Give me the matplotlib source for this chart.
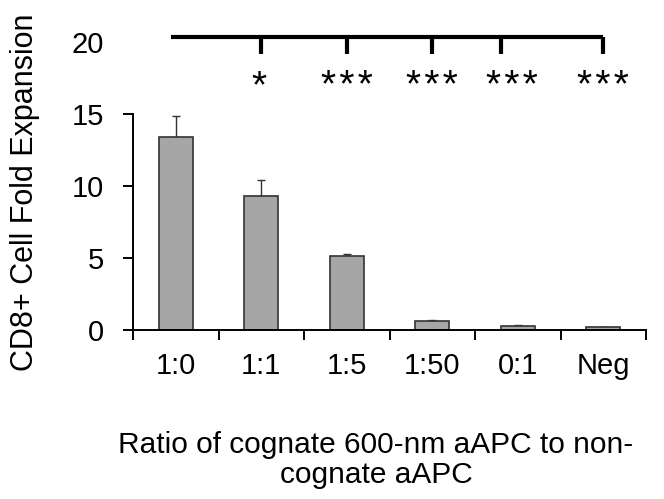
import matplotlib.pyplot as plt
import numpy as np

plt.rcParams['font.family'] = ['Liberation Sans', 'DejaVu Sans']

# data
categories = ['1:0', '1:1', '1:5', '1:50', '0:1', 'Neg']
values = [13.4, 9.3, 5.15, 0.6, 0.27, 0.19]
err_upper = [1.45, 1.15, 0.15, 0.08, 0.05, 0.02]
yticks = [0, 5, 10, 15, 20]

# significance bracket
bracket_x = [-0.05, 5]
bracket_drops = [1, 2, 3, 3.8, 5]
star_x = [0.97, 2, 3, 3.93, 5]
star_labels = ['*', '*\u200a*\u200a*', '*\u200a*\u200a*', '*\u200a*\u200a*', '*\u200a*\u200a*']

fig = plt.figure(figsize=(6.64, 4.99), dpi=100)
ax = fig.add_axes([0.2003, 0.3387, 0.7727, 0.606])

x = np.arange(len(categories))
ax.bar(x, values, width=0.4, color='#a6a6a6', edgecolor='#333333', linewidth=1.2, zorder=2)
ax.errorbar(x, values, yerr=[np.zeros(len(values)), err_upper], fmt='none',
            ecolor='#333333', elinewidth=1, capsize=3.2, capthick=1, zorder=1)

ax.set_xlim(-0.5, 5.5)
ax.set_ylim(0, 21)
ax.set_yticks(yticks)
ax.set_xticks(np.arange(-0.5, 6, 1))
ax.set_xticklabels([])
ax.set_xticks(x, minor=True)
ax.set_xticklabels(categories, minor=True)
ax.tick_params(axis='x', which='minor', length=0, pad=16, labelsize=21)
ax.tick_params(axis='x', which='major', direction='out', length=7, width=1.4)
ax.tick_params(axis='y', direction='out', length=7, width=1.4, pad=14, labelsize=21)
ax.yaxis.get_major_ticks()[-1].tick1line.set_visible(False)

for s in ['top', 'right']:
    ax.spines[s].set_visible(False)
ax.spines['left'].set_bounds(0, 15)
ax.spines['left'].set_linewidth(1.4)
ax.spines['bottom'].set_linewidth(1.4)

fig.text(25 / 664, 1 - 192 / 499, 'CD8+ Cell Fold Expansion', rotation=90,
         ha='center', va='center', fontsize=22)

# bracket
ax.plot(bracket_x, [20.35, 20.35], color='black', lw=3, solid_capstyle='butt', clip_on=False)
for bx in bracket_drops:
    ax.plot([bx, bx], [20.35, 19.15], color='black', lw=3, solid_capstyle='butt', clip_on=False)
for sx, lab in zip(star_x, star_labels):
    ax.text(sx, 16.15, lab, ha='center', va='baseline', fontsize=28)

fig.text(376 / 664, 1 - 460 / 499, 'Ratio of cognate 600-nm aAPC to non-\ncognate aAPC',
         ha='center', va='center', fontsize=21.5, linespacing=1.1)

fig.savefig('out.png', dpi=100)
